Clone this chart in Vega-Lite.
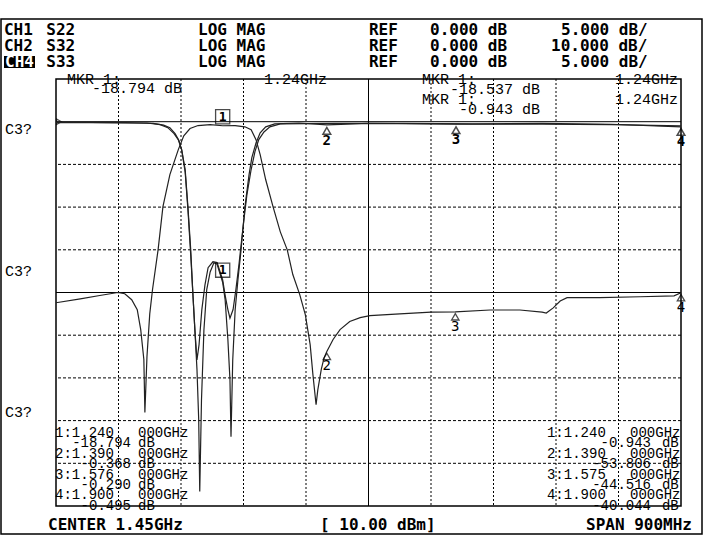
{
  "$schema": "https://vega.github.io/schema/vega-lite/v6.json",
  "width": 625,
  "height": 427,
  "autosize": {"type": "none"},
  "padding": {"left": 56, "top": 79, "right": 27, "bottom": 49},
  "background": "white",
  "config": {"view": {"stroke": "black", "strokeWidth": 1.5}},
  "datasets": {
    "frame": [{"f": 0.9208, "f2": 1.93024, "L": 24.05, "L2": -96.56}],
    "ch4box": [{"f": 0.92512, "f2": 0.96976, "L": 15.39, "L2": 12.58}],
    "gridV": [{"f": 1.09}, {"f": 1.18}, {"f": 1.27}, {"f": 1.36}, {"f": 1.54}, {"f": 1.63}, {"f": 1.72}, {"f": 1.81}],
    "gridH": [{"L": -10}, {"L": -20}, {"L": -30}, {"L": -50}, {"L": -60}, {"L": -70}, {"L": -80}],
    "solidV": [{"f": 1.45}],
    "solidH": [{"L": 0}, {"L": -40}],
    "refTri": [{"f": 1.0, "L": 0}],
    "s32": [
      {"f": 1.0, "L": -42.4}, {"f": 1.035, "L": -41.5}, {"f": 1.063, "L": -40.7}, {"f": 1.089, "L": -40.0},
      {"f": 1.099, "L": -40.3}, {"f": 1.109, "L": -41.7}, {"f": 1.117, "L": -44.0}, {"f": 1.122, "L": -48.7},
      {"f": 1.1265, "L": -55.7}, {"f": 1.128, "L": -68.1}, {"f": 1.131, "L": -55.0}, {"f": 1.135, "L": -45.0},
      {"f": 1.139, "L": -39.3}, {"f": 1.147, "L": -30.0}, {"f": 1.154, "L": -19.9}, {"f": 1.164, "L": -12.4},
      {"f": 1.176, "L": -6.6}, {"f": 1.184, "L": -3.3}, {"f": 1.193, "L": -1.6}, {"f": 1.2045, "L": -0.9},
      {"f": 1.222, "L": -0.7}, {"f": 1.24, "L": -0.943}, {"f": 1.258, "L": -0.9}, {"f": 1.272, "L": -1.2},
      {"f": 1.281, "L": -1.9}, {"f": 1.288, "L": -4.2}, {"f": 1.294, "L": -7.7}, {"f": 1.302, "L": -13.6},
      {"f": 1.3125, "L": -19.9}, {"f": 1.323, "L": -25.8}, {"f": 1.333, "L": -30.0}, {"f": 1.341, "L": -35.8},
      {"f": 1.351, "L": -40.5}, {"f": 1.359, "L": -45.2}, {"f": 1.366, "L": -52.2}, {"f": 1.37, "L": -59.3},
      {"f": 1.3745, "L": -66.3}, {"f": 1.377, "L": -62.8}, {"f": 1.382, "L": -58.0}, {"f": 1.386, "L": -55.3},
      {"f": 1.39, "L": -53.806}, {"f": 1.399, "L": -51.0}, {"f": 1.409, "L": -48.7}, {"f": 1.423, "L": -46.8},
      {"f": 1.438, "L": -45.9}, {"f": 1.452, "L": -45.4}, {"f": 1.495, "L": -45.0}, {"f": 1.54, "L": -44.6},
      {"f": 1.575, "L": -44.516}, {"f": 1.625, "L": -44.1}, {"f": 1.668, "L": -44.1}, {"f": 1.7, "L": -44.6},
      {"f": 1.706, "L": -44.8}, {"f": 1.716, "L": -43.6}, {"f": 1.726, "L": -42.0}, {"f": 1.736, "L": -41.2},
      {"f": 1.783, "L": -41.2}, {"f": 1.841, "L": -41.0}, {"f": 1.89, "L": -40.8}, {"f": 1.9, "L": -40.044}
    ],
    "refl": [
      {"ch": "S22", "f": 1.0, "L": -0.1}, {"ch": "S22", "f": 1.05, "L": -0.1}, {"ch": "S22", "f": 1.1, "L": -0.15},
      {"ch": "S22", "f": 1.131, "L": -0.15}, {"ch": "S22", "f": 1.15, "L": -0.35}, {"ch": "S22", "f": 1.161, "L": -0.7},
      {"ch": "S22", "f": 1.17, "L": -1.4}, {"ch": "S22", "f": 1.176, "L": -2.1}, {"ch": "S22", "f": 1.181, "L": -3.3},
      {"ch": "S22", "f": 1.186, "L": -5.6}, {"ch": "S22", "f": 1.19, "L": -10.0}, {"ch": "S22", "f": 1.194, "L": -15.0},
      {"ch": "S22", "f": 1.197, "L": -20.0}, {"ch": "S22", "f": 1.2, "L": -24.4}, {"ch": "S22", "f": 1.203, "L": -29.0},
      {"ch": "S22", "f": 1.2055, "L": -34.9}, {"ch": "S22", "f": 1.207, "L": -43.3}, {"ch": "S22", "f": 1.2095, "L": -32.6},
      {"ch": "S22", "f": 1.213, "L": -24.4}, {"ch": "S22", "f": 1.217, "L": -19.7}, {"ch": "S22", "f": 1.222, "L": -17.6},
      {"ch": "S22", "f": 1.2275, "L": -16.5}, {"ch": "S22", "f": 1.232, "L": -16.7}, {"ch": "S22", "f": 1.24, "L": -18.794},
      {"ch": "S22", "f": 1.2435, "L": -20.8}, {"ch": "S22", "f": 1.2475, "L": -25.5}, {"ch": "S22", "f": 1.2505, "L": -30.2},
      {"ch": "S22", "f": 1.252, "L": -36.9}, {"ch": "S22", "f": 1.2545, "L": -27.9}, {"ch": "S22", "f": 1.258, "L": -22.0},
      {"ch": "S22", "f": 1.262, "L": -18.5}, {"ch": "S22", "f": 1.2665, "L": -15.0}, {"ch": "S22", "f": 1.272, "L": -10.0},
      {"ch": "S22", "f": 1.278, "L": -6.2}, {"ch": "S22", "f": 1.282, "L": -4.2}, {"ch": "S22", "f": 1.288, "L": -2.5},
      {"ch": "S22", "f": 1.294, "L": -1.3}, {"ch": "S22", "f": 1.302, "L": -0.6}, {"ch": "S22", "f": 1.315, "L": -0.25},
      {"ch": "S22", "f": 1.35, "L": -0.15}, {"ch": "S22", "f": 1.39, "L": -0.368}, {"ch": "S22", "f": 1.45, "L": -0.2},
      {"ch": "S22", "f": 1.576, "L": -0.29}, {"ch": "S22", "f": 1.7, "L": -0.3}, {"ch": "S22", "f": 1.8, "L": -0.35},
      {"ch": "S22", "f": 1.9, "L": -0.495},
      {"ch": "S33", "f": 1.0, "L": -0.05}, {"ch": "S33", "f": 1.1, "L": -0.1}, {"ch": "S33", "f": 1.14, "L": -0.2},
      {"ch": "S33", "f": 1.155, "L": -0.4}, {"ch": "S33", "f": 1.164, "L": -0.7}, {"ch": "S33", "f": 1.1715, "L": -1.4},
      {"ch": "S33", "f": 1.177, "L": -2.2}, {"ch": "S33", "f": 1.181, "L": -3.3}, {"ch": "S33", "f": 1.186, "L": -5.9},
      {"ch": "S33", "f": 1.19, "L": -10.3}, {"ch": "S33", "f": 1.194, "L": -15.6}, {"ch": "S33", "f": 1.197, "L": -20.0},
      {"ch": "S33", "f": 1.2, "L": -24.4}, {"ch": "S33", "f": 1.203, "L": -27.9}, {"ch": "S33", "f": 1.206, "L": -26.1},
      {"ch": "S33", "f": 1.21, "L": -22.0}, {"ch": "S33", "f": 1.2145, "L": -19.1}, {"ch": "S33", "f": 1.219, "L": -17.1},
      {"ch": "S33", "f": 1.226, "L": -16.4}, {"ch": "S33", "f": 1.232, "L": -16.5}, {"ch": "S33", "f": 1.24, "L": -18.537},
      {"ch": "S33", "f": 1.2435, "L": -20.3}, {"ch": "S33", "f": 1.2475, "L": -22.0}, {"ch": "S33", "f": 1.2505, "L": -23.0},
      {"ch": "S33", "f": 1.255, "L": -22.0}, {"ch": "S33", "f": 1.259, "L": -19.7}, {"ch": "S33", "f": 1.2635, "L": -16.7},
      {"ch": "S33", "f": 1.269, "L": -12.6}, {"ch": "S33", "f": 1.275, "L": -8.5}, {"ch": "S33", "f": 1.281, "L": -5.6},
      {"ch": "S33", "f": 1.2865, "L": -3.5}, {"ch": "S33", "f": 1.292, "L": -2.1}, {"ch": "S33", "f": 1.2995, "L": -1.2},
      {"ch": "S33", "f": 1.308, "L": -0.6}, {"ch": "S33", "f": 1.323, "L": -0.25}, {"ch": "S33", "f": 1.4, "L": -0.2},
      {"ch": "S33", "f": 1.5, "L": -0.2}, {"ch": "S33", "f": 1.6, "L": -0.25}, {"ch": "S33", "f": 1.7, "L": -0.2},
      {"ch": "S33", "f": 1.8, "L": -0.3}, {"ch": "S33", "f": 1.9, "L": -0.6}
    ],
    "reflMk": [{"f": 1.39, "L": -0.368, "n": "2"}, {"f": 1.576, "L": -0.29, "n": "3"}, {"f": 1.9, "L": -0.495, "n": "4"}],
    "reflMk1": [{"f": 1.24, "L": -18.794, "n": "1"}],
    "s32Mk": [{"f": 1.39, "L": -53.806, "n": "2"}, {"f": 1.575, "L": -44.516, "n": "3"}, {"f": 1.9, "L": -40.044, "n": "4"}],
    "s32Mk1": [{"f": 1.24, "L": -0.943, "n": "1"}],
    "hdr": [
      {"f": 0.925, "L": 21.48, "t": "CH1"}, {"f": 0.986, "L": 21.48, "t": "S22"}, {"f": 1.2045, "L": 21.48, "t": "LOG MAG"},
      {"f": 1.4507, "L": 21.48, "t": "REF"}, {"f": 1.5386, "L": 21.48, "t": "0.000 dB"}, {"f": 1.7272, "L": 21.48, "t": "5.000 dB/"},
      {"f": 0.925, "L": 17.73, "t": "CH2"}, {"f": 0.986, "L": 17.73, "t": "S32"}, {"f": 1.2045, "L": 17.73, "t": "LOG MAG"},
      {"f": 1.4507, "L": 17.73, "t": "REF"}, {"f": 1.5386, "L": 17.73, "t": "0.000 dB"}, {"f": 1.7128, "L": 17.73, "t": "10.000 dB/"},
      {"f": 0.986, "L": 13.98, "t": "S33"}, {"f": 1.2045, "L": 13.98, "t": "LOG MAG"},
      {"f": 1.4507, "L": 13.98, "t": "REF"}, {"f": 1.5386, "L": 13.98, "t": "0.000 dB"}, {"f": 1.7272, "L": 13.98, "t": "5.000 dB/"},
      {"f": 0.9885, "L": -94.45, "t": "CENTER 1.45GHz"}, {"f": 1.3802, "L": -94.45, "t": "[ 10.00 dBm]"}
    ],
    "hdrR": [{"f": 1.9158, "L": -94.45, "t": "SPAN 900MHz"}],
    "hdrInv": [{"f": 0.9266, "L": 13.98, "t": "CH4"}],
    "mkrL": [
      {"f": 1.0158, "L": 10, "t": "MKR   1:"}, {"f": 1.527, "L": 10, "t": "MKR   1:"}, {"f": 1.527, "L": 5.32, "t": "MKR   1:"},
      {"f": 0.9266, "L": -1.71, "t": "C3?"}, {"f": 0.9266, "L": -34.96, "t": "C3?"}, {"f": 0.9266, "L": -67.98, "t": "C3?"}
    ],
    "mkrR": [
      {"f": 1.3902, "L": 10, "t": "1.24GHz"}, {"f": 1.8957, "L": 10, "t": "1.24GHz"}, {"f": 1.8957, "L": 5.32, "t": "1.24GHz"},
      {"f": 1.1814, "L": 7.89, "t": "-18.794 dB"}, {"f": 1.697, "L": 7.66, "t": "-18.537 dB"}, {"f": 1.697, "L": 2.97, "t": "-0.943 dB"}
    ],
    "tblL": [
      {"f": 0.9986, "L": -72.9, "t": "1:1.240"}, {"f": 1.1181, "L": -72.9, "t": "000GHz"},
      {"f": 1.1181, "L": -75.34, "t": "dB"},
      {"f": 0.9986, "L": -77.77, "t": "2:1.390"}, {"f": 1.1181, "L": -77.77, "t": "000GHz"},
      {"f": 1.1181, "L": -80.21, "t": "dB"},
      {"f": 0.9986, "L": -82.64, "t": "3:1.576"}, {"f": 1.1181, "L": -82.64, "t": "000GHz"},
      {"f": 1.1181, "L": -85.08, "t": "dB"},
      {"f": 0.9986, "L": -87.52, "t": "4:1.900"}, {"f": 1.1181, "L": -87.52, "t": "000GHz"},
      {"f": 1.1181, "L": -89.95, "t": "dB"},
      {"f": 1.707, "L": -72.9, "t": "1:1.240"}, {"f": 1.8266, "L": -72.9, "t": "000GHz"},
      {"f": 1.8726, "L": -75.34, "t": "dB"},
      {"f": 1.707, "L": -77.77, "t": "2:1.390"}, {"f": 1.8266, "L": -77.77, "t": "000GHz"},
      {"f": 1.8726, "L": -80.21, "t": "dB"},
      {"f": 1.707, "L": -82.64, "t": "3:1.575"}, {"f": 1.8266, "L": -82.64, "t": "000GHz"},
      {"f": 1.8726, "L": -85.08, "t": "dB"},
      {"f": 1.707, "L": -87.52, "t": "4:1.900"}, {"f": 1.8266, "L": -87.52, "t": "000GHz"},
      {"f": 1.8726, "L": -89.95, "t": "dB"}
    ],
    "tblR": [
      {"f": 1.108, "L": -75.34, "t": "-18.794"}, {"f": 1.108, "L": -80.21, "t": "-0.368"},
      {"f": 1.108, "L": -85.08, "t": "-0.290"}, {"f": 1.108, "L": -89.95, "t": "-0.495"},
      {"f": 1.8568, "L": -75.34, "t": "-0.943"}, {"f": 1.8568, "L": -80.21, "t": "-53.806"},
      {"f": 1.8568, "L": -85.08, "t": "-44.516"}, {"f": 1.8568, "L": -89.95, "t": "-40.044"}
    ]
  },
  "resolve": {"scale": {"y": "independent"}},
  "layer": [
    {
      "data": {"name": "frame"},
      "mark": {"type": "rect", "fill": "transparent", "stroke": "black", "strokeWidth": 1.5},
      "encoding": {
        "x": {"field": "f", "type": "quantitative", "scale": {"domain": [1, 1.9], "nice": false}, "axis": null},
        "x2": {"field": "f2"},
        "y": {"field": "L", "type": "quantitative", "scale": {"domain": [-90, 10], "nice": false}, "axis": null},
        "y2": {"field": "L2"}
      }
    },
    {
      "data": {"name": "ch4box"},
      "mark": {"type": "rect", "fill": "black"},
      "encoding": {
        "x": {"field": "f", "type": "quantitative", "scale": {"domain": [1, 1.9], "nice": false}, "axis": null},
        "x2": {"field": "f2"},
        "y": {"field": "L", "type": "quantitative", "scale": {"domain": [-90, 10], "nice": false}, "axis": null},
        "y2": {"field": "L2"}
      }
    },
    {
      "data": {"name": "gridV"},
      "mark": {"type": "rule", "color": "black", "strokeWidth": 1, "strokeDash": [2, 2]},
      "encoding": {
        "x": {"field": "f", "type": "quantitative", "scale": {"domain": [1, 1.9], "nice": false}, "axis": null}
      }
    },
    {
      "data": {"name": "gridH"},
      "mark": {"type": "rule", "color": "black", "strokeWidth": 1, "strokeDash": [3, 2]},
      "encoding": {
        "y": {"field": "L", "type": "quantitative", "scale": {"domain": [-90, 10], "nice": false}, "axis": null}
      }
    },
    {
      "data": {"name": "solidV"},
      "mark": {"type": "rule", "color": "black", "strokeWidth": 1},
      "encoding": {
        "x": {"field": "f", "type": "quantitative", "scale": {"domain": [1, 1.9], "nice": false}, "axis": null}
      }
    },
    {
      "data": {"name": "solidH"},
      "mark": {"type": "rule", "color": "black", "strokeWidth": 1},
      "encoding": {
        "y": {"field": "L", "type": "quantitative", "scale": {"domain": [-90, 10], "nice": false}, "axis": null}
      }
    },
    {
      "data": {"name": "refTri"},
      "mark": {"type": "point", "shape": "triangle-right", "filled": false, "stroke": "black", "strokeWidth": 1.2, "size": 30, "xOffset": 3},
      "encoding": {
        "x": {"field": "f", "type": "quantitative", "scale": {"domain": [1, 1.9], "nice": false}, "axis": null},
        "y": {"field": "L", "type": "quantitative", "scale": {"domain": [-90, 10], "nice": false}, "axis": null}
      }
    },
    {
      "data": {"name": "s32"},
      "mark": {"type": "line", "color": "#222", "strokeWidth": 1.2},
      "encoding": {
        "x": {"field": "f", "type": "quantitative", "scale": {"domain": [1, 1.9], "nice": false}, "axis": null},
        "y": {"field": "L", "type": "quantitative", "scale": {"domain": [-90, 10], "nice": false}, "axis": null}
      }
    },
    {
      "data": {"name": "refl"},
      "mark": {"type": "line", "color": "#222", "strokeWidth": 1.2},
      "encoding": {
        "x": {"field": "f", "type": "quantitative", "scale": {"domain": [1, 1.9], "nice": false}, "axis": null},
        "y": {"field": "L", "type": "quantitative", "scale": {"domain": [-45, 5], "nice": false}, "axis": null},
        "detail": {"field": "ch", "type": "nominal"}
      }
    },
    {
      "data": {"name": "reflMk"},
      "mark": {"type": "point", "shape": "triangle-up", "filled": false, "stroke": "black", "strokeWidth": 1.5, "size": 60, "yOffset": 6},
      "encoding": {
        "x": {"field": "f", "type": "quantitative", "scale": {"domain": [1, 1.9], "nice": false}, "axis": null},
        "y": {"field": "L", "type": "quantitative", "scale": {"domain": [-45, 5], "nice": false}, "axis": null}
      }
    },
    {
      "data": {"name": "reflMk"},
      "mark": {"type": "text", "font": "DejaVu Sans Mono", "fontWeight": "bold", "fontSize": 14, "color": "black", "yOffset": 16, "align": "center", "baseline": "middle"},
      "encoding": {
        "x": {"field": "f", "type": "quantitative", "scale": {"domain": [1, 1.9], "nice": false}, "axis": null},
        "y": {"field": "L", "type": "quantitative", "scale": {"domain": [-45, 5], "nice": false}, "axis": null},
        "text": {"field": "n"}
      }
    },
    {
      "data": {"name": "s32Mk"},
      "mark": {"type": "point", "shape": "triangle-up", "filled": false, "stroke": "black", "strokeWidth": 1.3, "size": 55, "yOffset": 5},
      "encoding": {
        "x": {"field": "f", "type": "quantitative", "scale": {"domain": [1, 1.9], "nice": false}, "axis": null},
        "y": {"field": "L", "type": "quantitative", "scale": {"domain": [-90, 10], "nice": false}, "axis": null}
      }
    },
    {
      "data": {"name": "s32Mk"},
      "mark": {"type": "text", "font": "DejaVu Sans Mono", "fontSize": 14, "color": "black", "yOffset": 15, "align": "center", "baseline": "middle"},
      "encoding": {
        "x": {"field": "f", "type": "quantitative", "scale": {"domain": [1, 1.9], "nice": false}, "axis": null},
        "y": {"field": "L", "type": "quantitative", "scale": {"domain": [-90, 10], "nice": false}, "axis": null},
        "text": {"field": "n"}
      }
    },
    {
      "data": {"name": "s32Mk1"},
      "mark": {"type": "point", "shape": "square", "filled": false, "stroke": "black", "strokeWidth": 1.3, "size": 200, "yOffset": -9},
      "encoding": {
        "x": {"field": "f", "type": "quantitative", "scale": {"domain": [1, 1.9], "nice": false}, "axis": null},
        "y": {"field": "L", "type": "quantitative", "scale": {"domain": [-90, 10], "nice": false}, "axis": null}
      }
    },
    {
      "data": {"name": "s32Mk1"},
      "mark": {"type": "text", "font": "DejaVu Sans Mono", "fontWeight": "bold", "fontSize": 13, "color": "black", "yOffset": -9, "align": "center", "baseline": "middle"},
      "encoding": {
        "x": {"field": "f", "type": "quantitative", "scale": {"domain": [1, 1.9], "nice": false}, "axis": null},
        "y": {"field": "L", "type": "quantitative", "scale": {"domain": [-90, 10], "nice": false}, "axis": null},
        "text": {"field": "n"}
      }
    },
    {
      "data": {"name": "reflMk1"},
      "mark": {"type": "point", "shape": "square", "filled": false, "stroke": "black", "strokeWidth": 1.3, "size": 200, "yOffset": -12},
      "encoding": {
        "x": {"field": "f", "type": "quantitative", "scale": {"domain": [1, 1.9], "nice": false}, "axis": null},
        "y": {"field": "L", "type": "quantitative", "scale": {"domain": [-45, 5], "nice": false}, "axis": null}
      }
    },
    {
      "data": {"name": "reflMk1"},
      "mark": {"type": "text", "font": "DejaVu Sans Mono", "fontWeight": "bold", "fontSize": 13, "color": "black", "yOffset": -12, "align": "center", "baseline": "middle"},
      "encoding": {
        "x": {"field": "f", "type": "quantitative", "scale": {"domain": [1, 1.9], "nice": false}, "axis": null},
        "y": {"field": "L", "type": "quantitative", "scale": {"domain": [-45, 5], "nice": false}, "axis": null},
        "text": {"field": "n"}
      }
    },
    {
      "data": {"name": "hdr"},
      "mark": {"type": "text", "font": "DejaVu Sans Mono", "fontWeight": "bold", "fontSize": 16, "color": "black", "align": "left", "baseline": "middle"},
      "encoding": {
        "x": {"field": "f", "type": "quantitative", "scale": {"domain": [1, 1.9], "nice": false}, "axis": null},
        "y": {"field": "L", "type": "quantitative", "scale": {"domain": [-90, 10], "nice": false}, "axis": null},
        "text": {"field": "t"}
      }
    },
    {
      "data": {"name": "hdrR"},
      "mark": {"type": "text", "font": "DejaVu Sans Mono", "fontWeight": "bold", "fontSize": 16, "color": "black", "align": "right", "baseline": "middle"},
      "encoding": {
        "x": {"field": "f", "type": "quantitative", "scale": {"domain": [1, 1.9], "nice": false}, "axis": null},
        "y": {"field": "L", "type": "quantitative", "scale": {"domain": [-90, 10], "nice": false}, "axis": null},
        "text": {"field": "t"}
      }
    },
    {
      "data": {"name": "hdrInv"},
      "mark": {"type": "text", "font": "DejaVu Sans Mono", "fontWeight": "bold", "fontSize": 16, "color": "white", "align": "left", "baseline": "middle"},
      "encoding": {
        "x": {"field": "f", "type": "quantitative", "scale": {"domain": [1, 1.9], "nice": false}, "axis": null},
        "y": {"field": "L", "type": "quantitative", "scale": {"domain": [-90, 10], "nice": false}, "axis": null},
        "text": {"field": "t"}
      }
    },
    {
      "data": {"name": "mkrL"},
      "mark": {"type": "text", "font": "Liberation Mono", "fontSize": 15, "color": "black", "align": "left", "baseline": "middle"},
      "encoding": {
        "x": {"field": "f", "type": "quantitative", "scale": {"domain": [1, 1.9], "nice": false}, "axis": null},
        "y": {"field": "L", "type": "quantitative", "scale": {"domain": [-90, 10], "nice": false}, "axis": null},
        "text": {"field": "t"}
      }
    },
    {
      "data": {"name": "mkrR"},
      "mark": {"type": "text", "font": "Liberation Mono", "fontSize": 15, "color": "black", "align": "right", "baseline": "middle"},
      "encoding": {
        "x": {"field": "f", "type": "quantitative", "scale": {"domain": [1, 1.9], "nice": false}, "axis": null},
        "y": {"field": "L", "type": "quantitative", "scale": {"domain": [-90, 10], "nice": false}, "axis": null},
        "text": {"field": "t"}
      }
    },
    {
      "data": {"name": "tblL"},
      "mark": {"type": "text", "font": "Liberation Mono", "fontSize": 14, "color": "black", "align": "left", "baseline": "middle"},
      "encoding": {
        "x": {"field": "f", "type": "quantitative", "scale": {"domain": [1, 1.9], "nice": false}, "axis": null},
        "y": {"field": "L", "type": "quantitative", "scale": {"domain": [-90, 10], "nice": false}, "axis": null},
        "text": {"field": "t"}
      }
    },
    {
      "data": {"name": "tblR"},
      "mark": {"type": "text", "font": "Liberation Mono", "fontSize": 14, "color": "black", "align": "right", "baseline": "middle"},
      "encoding": {
        "x": {"field": "f", "type": "quantitative", "scale": {"domain": [1, 1.9], "nice": false}, "axis": null},
        "y": {"field": "L", "type": "quantitative", "scale": {"domain": [-90, 10], "nice": false}, "axis": null},
        "text": {"field": "t"}
      }
    }
  ]
}
